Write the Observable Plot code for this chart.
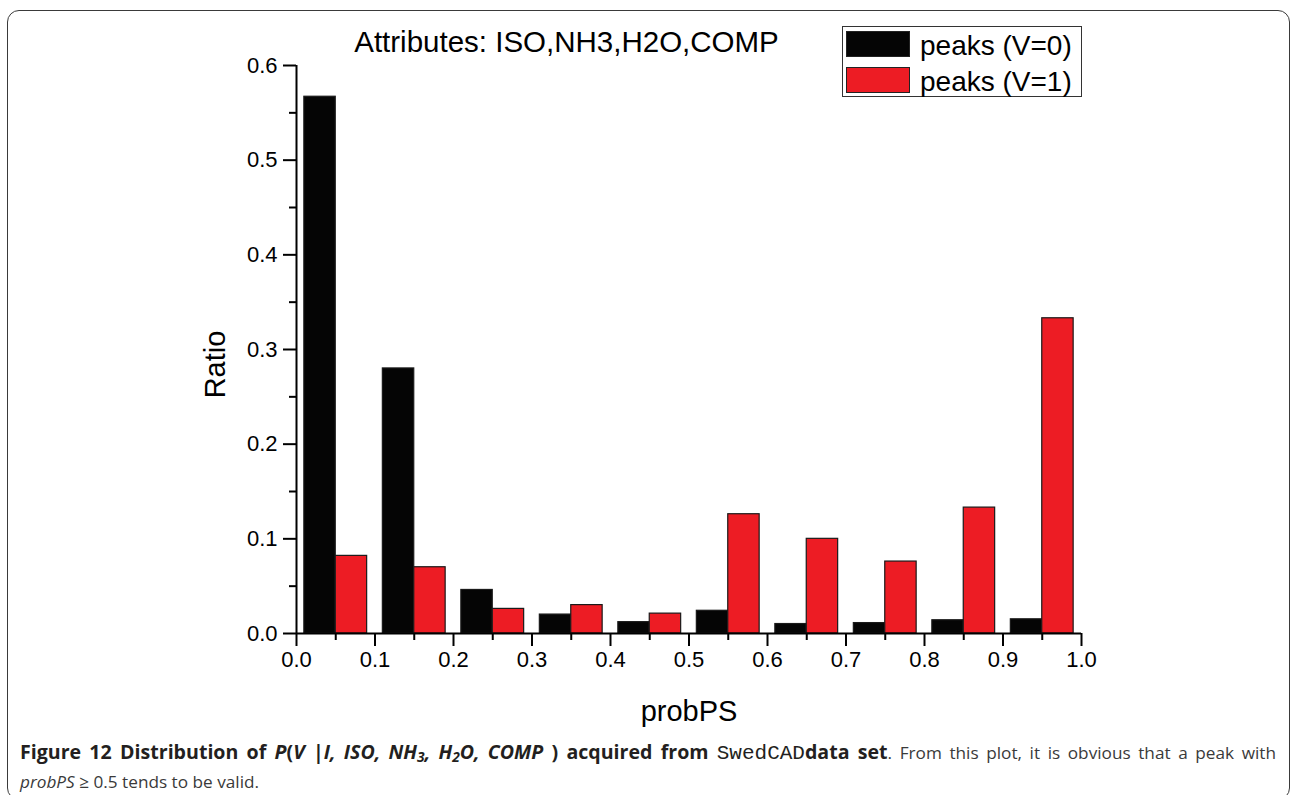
<!DOCTYPE html>
<html>
<head>
<meta charset="utf-8">
<script src="https://cdn.jsdelivr.net/npm/d3@7"></script>
<script src="https://cdn.jsdelivr.net/npm/@observablehq/plot@0.6"></script>
<style>
  html, body { margin: 0; padding: 0; background: #fff; }
  body { width: 1292px; height: 795px; overflow: hidden; position: relative; font-family: "Liberation Sans", Arial, sans-serif; }
  #frame { position: absolute; left: 7px; top: 10px; width: 1283px; height: 790px; border: 1.5px solid #3a3a3a; border-radius: 12px; box-sizing: border-box; }
  #chart { position: absolute; left: 0; top: 0; }
  #title { position: absolute; left: 0; top: 27px; width: 1133px; text-align: center; font-size: 29.5px; line-height: 29px; color: #000; white-space: nowrap; }
  #legend { position: absolute; left: 842px; top: 26px; width: 240px; height: 71px; border: 1px solid #333; box-sizing: border-box; background: #fff; }
  #legend .sw { position: absolute; left: 3px; width: 64px; box-sizing: border-box; border: 1px solid #222; }
  #legend .lab { position: absolute; left: 77px; font-size: 28px; line-height: 28px; white-space: nowrap; color: #000; }
  #caption { position: absolute; left: 20px; top: 738px; width: 1256px; font-family: "Open Sans", "Noto Sans", sans-serif; font-size: 17.2px; line-height: 28px; color: #3a3a3a; }
  #caption .l1 { text-align: justify; text-align-last: justify; white-space: nowrap; }
  #caption b { color: #231f20; font-weight: 700; font-size: 19.6px; }
  #caption .mono { font-family: "Liberation Mono", "DejaVu Sans Mono", monospace; font-weight: 400; font-size: 21px; }
  #caption sub { font-size: 0.7em; vertical-align: -0.25em; line-height: 0; }
</style>
</head>
<body>
<div id="frame"></div>
<div id="chart"></div>
<div id="title"></div>
<div id="legend"></div>
<div id="caption">
  <div class="l1"><b>Figure 12 Distribution of <i>P</i>(<i>V |I, ISO, NH<sub>3</sub>, H<sub>2</sub>O, COMP</i> ) acquired from <span class="mono">SwedCAD</span>data set</b>. From this plot, it is obvious that a peak with</div>
  <div><i>probPS</i> ≥ 0.5 tends to be valid.</div>
</div>
<script>
// ---- data ----
const bins = [0.0, 0.1, 0.2, 0.3, 0.4, 0.5, 0.6, 0.7, 0.8, 0.9];
const peaksV0 = [0.567, 0.280, 0.046, 0.020, 0.012, 0.024, 0.010, 0.011, 0.014, 0.015];
const peaksV1 = [0.082, 0.070, 0.026, 0.030, 0.021, 0.126, 0.100, 0.076, 0.133, 0.333];
const seriesNames = ["peaks (V=0)", "peaks (V=1)"];
const seriesColors = ["#050505", "#ED1C24"];
const xTicks = [0.0, 0.1, 0.2, 0.3, 0.4, 0.5, 0.6, 0.7, 0.8, 0.9, 1.0];
const xMinorTicks = [0.05, 0.15, 0.25, 0.35, 0.45, 0.55, 0.65, 0.75, 0.85, 0.95];
const yTicks = [0.0, 0.1, 0.2, 0.3, 0.4, 0.5, 0.6];
const yMinorTicks = [0.05, 0.15, 0.25, 0.35, 0.45, 0.55];
const titleText = "Attributes: ISO,NH3,H2O,COMP";
const xLabel = "probPS";
const yLabel = "Ratio";

// table built from the arrays
const table = bins.flatMap((b, i) => [
  {bin: b, series: seriesNames[0], k: 0, value: peaksV0[i]},
  {bin: b, series: seriesNames[1], k: 1, value: peaksV1[i]}
]);

const W = 1292, H = 735;
const chart = Plot.plot({
  width: W,
  height: H,
  marginLeft: 296,
  marginRight: 211,
  marginTop: 65,
  marginBottom: 102,
  style: {fontFamily: "Liberation Sans, Arial, sans-serif", fontSize: "22px", color: "#000", background: "transparent", overflow: "visible"},
  x: {domain: [0, 1]},
  y: {domain: [0, 0.6]},
  color: {domain: seriesNames, range: seriesColors},
  marks: [
    Plot.rectY(table, {
      x1: d => d.bin + 0.01 + d.k * 0.04,
      x2: d => d.bin + 0.05 + d.k * 0.04,
      y1: 0,
      y2: "value",
      fill: "series",
      stroke: "#1a1a1a",
      strokeWidth: 1.2
    }),
    Plot.axisX({ticks: xTicks, tickSize: 13, tickPadding: 5, strokeWidth: 2, tickFormat: d3.format(".1f"), fontSize: 22, label: null}),
    Plot.axisX({ticks: xMinorTicks, tickSize: 7, strokeWidth: 2, tickFormat: () => "", label: null}),
    Plot.axisY({ticks: yTicks, tickSize: 13, tickPadding: 6, strokeWidth: 2, tickFormat: d3.format(".1f"), fontSize: 22, label: null}),
    Plot.axisY({ticks: yMinorTicks, tickSize: 7, strokeWidth: 2, tickFormat: () => "", label: null}),
    Plot.ruleY([0], {x1: 0, x2: 1, stroke: "#000", strokeWidth: 2}),
    Plot.ruleX([0], {y1: 0, y2: 0.6, stroke: "#000", strokeWidth: 2}),
    Plot.text([xLabel], {frameAnchor: "bottom", dy: 78, text: d => d, fontSize: 29, textAnchor: "middle", lineAnchor: "middle", fill: "#000"}),
    Plot.text([yLabel], {frameAnchor: "left", dx: -81, dy: 15, rotate: -90, text: d => d, fontSize: 29, textAnchor: "middle", lineAnchor: "middle", fill: "#000"})
  ]
});
document.getElementById("chart").appendChild(chart);

document.getElementById("title").textContent = titleText;

// legend built from the series arrays
const legend = document.getElementById("legend");
const rowTops = [4, 40];
seriesNames.forEach((name, i) => {
  const sw = document.createElement("div");
  sw.className = "sw";
  sw.style.top = rowTops[i] + "px";
  sw.style.height = "26px";
  sw.style.background = seriesColors[i];
  legend.appendChild(sw);
  const lab = document.createElement("div");
  lab.className = "lab";
  lab.style.top = (rowTops[i] + 1) + "px";
  lab.textContent = name;
  legend.appendChild(lab);
});
</script>
</body>
</html>
